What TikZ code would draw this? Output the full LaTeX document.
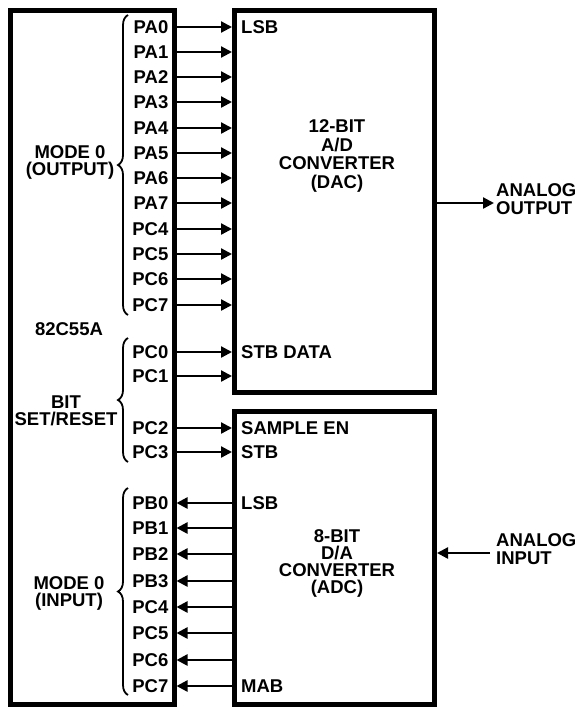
\documentclass[tikz,border=0pt]{standalone}
\usepackage{fontspec}
\setmainfont{Liberation Sans}
\usetikzlibrary{arrows.meta,decorations.pathreplacing}
\begin{document}
\begin{tikzpicture}[x=1pt,y=-1pt,
  box/.style={draw, line width=5pt, rectangle, inner sep=0pt},
  lbl/.style={font=\fontsize{18.5}{17}\selectfont\bfseries, inner sep=0pt},
  pinlbl/.style={lbl, anchor=east},
  inlbl/.style={lbl, anchor=west},
  sig/.style={line width=2.3pt, -{Triangle[length=11pt,width=11pt]}},
  brc/.style={line width=1.8pt, decorate, decoration={brace, amplitude=10pt}}]
\useasboundingbox (0,0) rectangle (576,707);
\node[box, minimum width=163.2pt, minimum height=693.5pt] (ppi) at (92.4,357.25) {};
\node[box, minimum width=200pt, minimum height=382.5pt] (dac) at (334.5,201.25) {};
\node[box, minimum width=200pt, minimum height=293pt] (adc) at (334.5,557.5) {};
% outputs to DAC
\foreach \n/\t/\y in {oa0/PA0/27, oa1/PA1/52, oa2/PA2/77, oa3/PA3/102, oa4/PA4/128, oa5/PA5/153, oa6/PA6/178, oa7/PA7/203, oc4/PC4/229, oc5/PC5/254, oc6/PC6/279, oc7/PC7/305, bc0/PC0/352, bc1/PC1/376}{
  \node[pinlbl] (\n) at (168.5,\y) {\t};
  \draw[sig] (ppi.east |- \n) -- (dac.west |- \n);
}
% outputs to ADC
\foreach \n/\t/\y in {bc2/PC2/428, bc3/PC3/452}{
  \node[pinlbl] (\n) at (168.5,\y) {\t};
  \draw[sig] (ppi.east |- \n) -- (adc.west |- \n);
}
% inputs from ADC
\foreach \n/\t/\y in {ib0/PB0/503, ib1/PB1/528, ib2/PB2/554, ib3/PB3/581, ic4/PC4/607, ic5/PC5/633, ic6/PC6/660, ic7/PC7/686}{
  \node[pinlbl] (\n) at (168.5,\y) {\t};
  \draw[sig] (adc.west |- \n) -- (ppi.east |- \n);
}
% labels inside converters
\node[inlbl] (dlsb) at (241,27) {LSB};
\node[inlbl] (dstb) at (241,352) {STB DATA};
\node[inlbl] (asen) at (241,428) {SAMPLE EN};
\node[inlbl] (astb) at (241,452) {STB};
\node[inlbl] (alsb) at (241,503) {LSB};
\node[inlbl] (amab) at (241,686) {MAB};
\node[lbl, align=center, font=\fontsize{18.5}{18.5}\selectfont\bfseries] (dactxt) at (337,156) {12-BIT\\A/D\\CONVERTER\\(DAC)};
\node[lbl, align=center] (adctxt) at (337,563) {8-BIT\\D/A\\CONVERTER\\(ADC)};
% analog
\coordinate (aoend) at (494,203);
\draw[sig] (dac.east |- aoend) -- (aoend);
\node[inlbl, align=left, font=\fontsize{18.5}{18}\selectfont\bfseries] (aotxt) at (496,199.5) {ANALOG\\OUTPUT};
\coordinate (aistart) at (490,553);
\draw[sig] (aistart) -- (adc.east |- aistart);
\node[inlbl, align=left, font=\fontsize{18.5}{18}\selectfont\bfseries] (aitxt) at (496,549.5) {ANALOG\\INPUT};
% left side
\node[lbl, align=center] (m0o) at (70,162) {MODE 0\\(OUTPUT)};
\node[lbl] (chip) at (69,329) {82C55A};
\node[lbl, align=center] (bsr) at (66,411) {BIT\\SET/RESET};
\node[lbl, align=center] (m0i) at (69,593) {MODE 0\\(INPUT)};
% braces
\draw[brc] (128,315) -- (128,15);
\draw[brc] (128,462) -- (128,338);
\draw[brc] (128,695) -- (128,488);
\end{tikzpicture}
\end{document}
